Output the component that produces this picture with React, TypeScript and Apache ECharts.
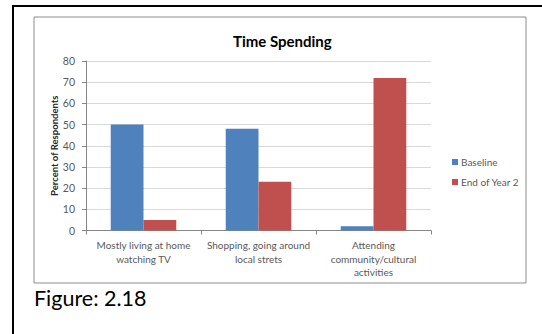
import React, { useEffect, useRef } from "react";
import * as echarts from "echarts";

// Survey categories and responses (percent of respondents)
const categories: string[] = [
  "Mostly living at home\nwatching TV",
  "Shopping, going around\nlocal strets",
  "Attending\ncommunity/cultural\nactivities",
];
const baseline: number[] = [50, 48, 2];
const endOfYear2: number[] = [5, 23, 72];
const seriesNames: string[] = ["Baseline", "End of Year 2"];
const yTicks = { min: 0, max: 80, interval: 10 };

const FONT = "Lato, 'Open Sans', sans-serif";
const LABEL_GRAY = "#595959";

export default function App() {
  const ref = useRef<HTMLDivElement>(null);

  useEffect(() => {
    if (!ref.current) return;
    const chart = echarts.init(ref.current, undefined, { renderer: "svg" });
    chart.setOption({
      animation: false,
      backgroundColor: "#ffffff",
      textStyle: { fontFamily: FONT },
      title: {
        text: "Time Spending",
        left: 228,
        top: 28,
        textStyle: { fontFamily: FONT, fontSize: 15, fontWeight: "bold", color: "#000000" },
      },
      legend: {
        orient: "vertical",
        left: 447,
        top: 151,
        itemWidth: 6,
        itemHeight: 6,
        itemGap: 8,
        icon: "rect",
        data: seriesNames,
        textStyle: { fontFamily: FONT, fontSize: 10, color: LABEL_GRAY, lineHeight: 12, padding: [0, 0, 0, -2] },
      },
      grid: { left: 86, right: 111, top: 61, bottom: 103.5 },
      xAxis: {
        type: "category",
        data: categories,
        axisLine: { lineStyle: { color: "#868686" } },
        axisTick: { show: true, length: 4, lineStyle: { color: "#868686" } },
        axisLabel: {
          interval: 0,
          margin: 8,
          fontFamily: FONT,
          fontSize: 10,
          lineHeight: 13.5,
          color: LABEL_GRAY,
        },
      },
      yAxis: {
        type: "value",
        min: yTicks.min,
        max: yTicks.max,
        interval: yTicks.interval,
        name: "Percent of Respondents",
        nameLocation: "middle",
        nameGap: 27,
        nameMoveOverlap: false,
        nameTextStyle: { fontFamily: FONT, fontSize: 9.5, fontWeight: "bold", color: "#262626" },
        axisLine: { show: true, lineStyle: { color: "#868686" } },
        axisTick: { show: true, length: 4, lineStyle: { color: "#868686" } },
        axisLabel: { margin: 11, fontFamily: FONT, fontSize: 10.5, color: LABEL_GRAY },
        splitLine: { lineStyle: { color: "#d9d9d9" } },
      },
      series: [
        {
          name: seriesNames[0],
          type: "bar",
          data: baseline,
          barGap: "0%",
          barCategoryGap: "43%",
          itemStyle: { color: "#4f81bd" },
        },
        {
          name: seriesNames[1],
          type: "bar",
          data: endOfYear2,
          barGap: "0%",
          barCategoryGap: "43%",
          itemStyle: { color: "#c0504d" },
        },
      ],
      graphic: [
        // outer page frame
        {
          type: "polyline",
          silent: true,
          shape: { points: [[13, 340], [13, 6], [548, 6]] },
          style: { stroke: "#000000", lineWidth: 2, fill: "none" },
        },
        // chart area frame
        {
          type: "rect",
          silent: true,
          shape: { x: 34, y: 17, width: 492, height: 266 },
          style: { stroke: "#8c8c8c", lineWidth: 1, fill: "none" },
        },
        {
          type: "text",
          x: 34,
          y: 298,
          style: {
            text: "Figure: 2.18",
            fontFamily: FONT,
            fontSize: 21.5,
            fill: "#000000",
            textVerticalAlign: "middle",
          },
        },
      ],
    });
    return () => chart.dispose();
  }, []);

  return (
    <div
      ref={ref}
      style={{ position: "fixed", left: 0, top: 0, width: 542, height: 334, background: "#fff" }}
    />
  );
}
